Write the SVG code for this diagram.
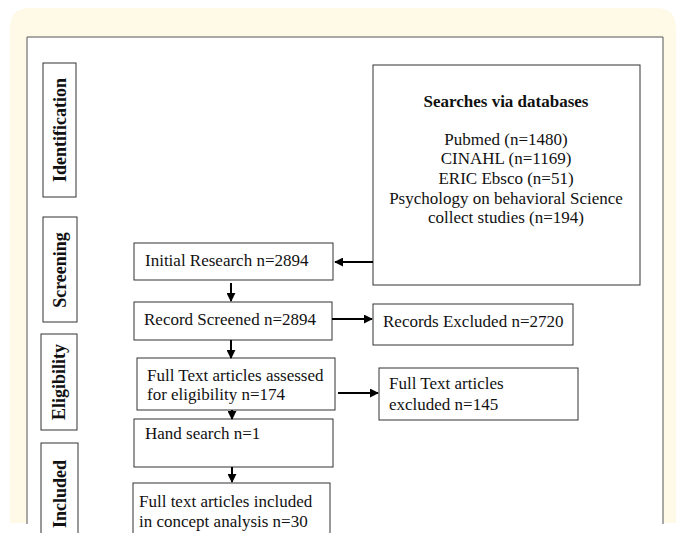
<svg xmlns="http://www.w3.org/2000/svg" width="682" height="533" viewBox="0 0 682 533">
<defs>
<style>
.box{fill:#fff;stroke:#333;stroke-width:1}
.t{font-family:"Liberation Serif","Times New Roman",serif;font-size:17px;fill:#111}
.b{font-weight:bold}
.ph{font-family:"Liberation Serif","Times New Roman",serif;font-size:18px;font-weight:bold;fill:#111}
.c{stroke:#000;stroke-width:2;fill:none;marker-end:url(#ah)}
</style>
<marker id="ah" viewBox="0 0 10 10" refX="9" refY="5" markerWidth="4.5" markerHeight="4.5" orient="auto" markerUnits="strokeWidth">
<path d="M0,0 L10,5 L0,10 z" fill="#000"/>
</marker>
</defs>
<rect x="0" y="0" width="682" height="533" fill="#fff"/>
<path d="M10,523 L10,28 Q10,8 30,8 L656,8 Q676,8 676,28 L676,523 Z" fill="#fffae8"/>
<path d="M27,524 L27,37 L663,37 L663,524" fill="#fff" stroke="#555" stroke-width="1"/>
<rect x="27" y="524" width="636" height="9" fill="#fff"/>

<g id="phase-identification">
<rect class="box" x="43" y="63" width="33" height="134"/>
<text class="ph" transform="translate(66,130) rotate(-90)" text-anchor="middle">Identification</text>
</g>
<g id="phase-screening">
<rect class="box" x="43" y="217" width="34" height="105"/>
<text class="ph" transform="translate(66,270) rotate(-90)" text-anchor="middle">Screening</text>
</g>
<g id="phase-eligibility">
<rect class="box" x="41" y="334" width="36" height="96"/>
<text class="ph" transform="translate(65,382) rotate(-90)" text-anchor="middle">Eligibility</text>
</g>
<g id="phase-included">
<rect class="box" x="41" y="443" width="37" height="95"/>
<text class="ph" transform="translate(66,494) rotate(-90)" text-anchor="middle">Included</text>
</g>

<g id="searches">
<rect class="box" x="373" y="65" width="267" height="220"/>
<text class="t b" x="506" y="107" text-anchor="middle">Searches via databases</text>
<text class="t" x="506" y="145" text-anchor="middle">Pubmed (n=1480)</text>
<text class="t" x="506" y="164" text-anchor="middle">CINAHL  (n=1169)</text>
<text class="t" x="506" y="184" text-anchor="middle">ERIC Ebsco (n=51)</text>
<text class="t" x="506" y="204" text-anchor="middle">Psychology on behavioral Science</text>
<text class="t" x="506" y="223" text-anchor="middle">collect studies (n=194)</text>
</g>
<g id="initial-research">
<rect class="box" x="134" y="243" width="199" height="37"/>
<text class="t" x="145" y="266">Initial Research n=2894</text>
</g>
<g id="record-screened">
<rect class="box" x="134" y="302" width="198" height="38"/>
<text class="t" x="144" y="325">Record Screened n=2894</text>
</g>
<g id="records-excluded">
<rect class="box" x="373" y="304" width="200" height="41"/>
<text class="t" x="383" y="327">Records Excluded n=2720</text>
</g>
<g id="fulltext-assessed">
<rect class="box" x="137" y="358" width="198" height="52"/>
<text class="t" x="147" y="381">Full Text articles assessed</text>
<text class="t" x="147" y="400">for eligibility n=174</text>
</g>
<g id="fulltext-excluded">
<rect class="box" x="379" y="368" width="199" height="52"/>
<text class="t" x="389" y="389">Full Text articles</text>
<text class="t" x="389" y="410">excluded n=145</text>
</g>
<g id="hand-search">
<rect class="box" x="134" y="419" width="199" height="48"/>
<text class="t" x="145" y="439">Hand search n=1</text>
</g>
<g id="fulltext-included">
<rect class="box" x="133" y="483" width="197" height="60"/>
<text class="t" x="139" y="507">Full text articles included</text>
<text class="t" x="139" y="527">in concept analysis n=30</text>
</g>

<g id="connectors">
<line class="c" x1="373" y1="262" x2="335" y2="262"/>
<line class="c" x1="231" y1="283" x2="231" y2="301"/>
<line class="c" x1="332" y1="319" x2="372" y2="319"/>
<line class="c" x1="231" y1="340" x2="231" y2="358"/>
<line class="c" x1="338" y1="393" x2="378" y2="393"/>
<line class="c" x1="232" y1="410" x2="232" y2="419"/>
<line class="c" x1="232" y1="467" x2="232" y2="482"/>
</g>
</svg>
